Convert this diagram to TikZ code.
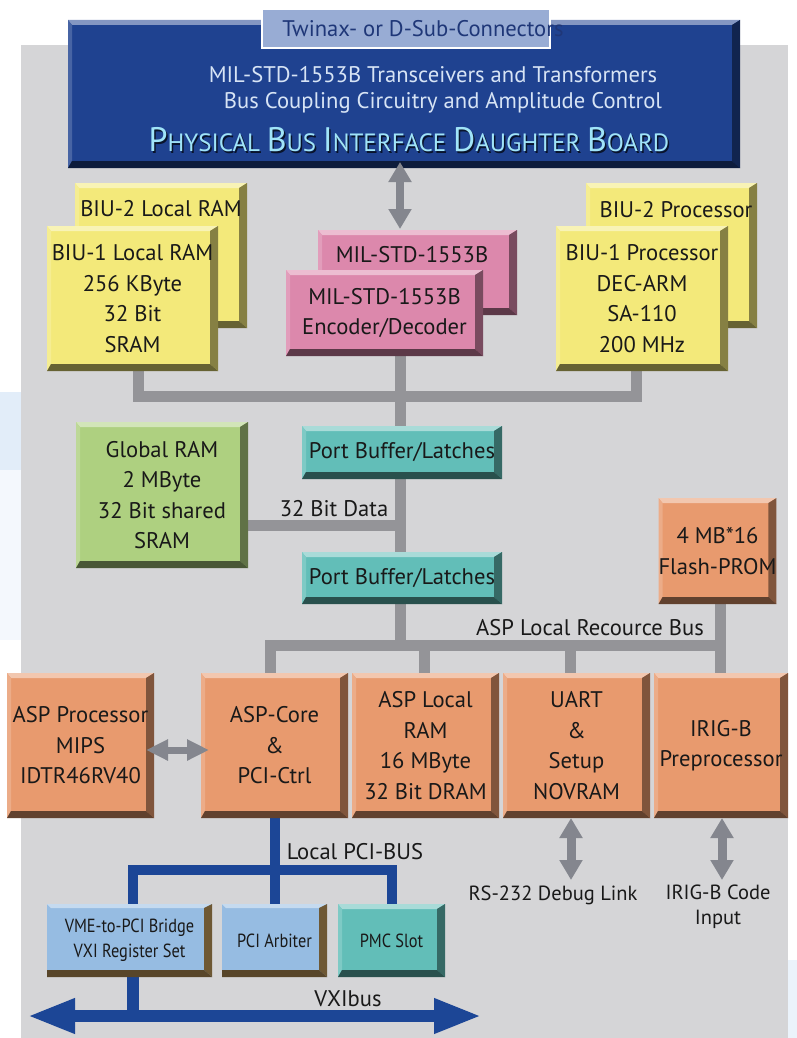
\documentclass[tikz,border=0pt]{standalone}
\usepackage{fontspec}
\setmainfont{PT Sans}
\newfontfamily\condfont[FakeStretch=0.86]{PT Sans}
\usetikzlibrary{arrows.meta,calc}
\definecolor{bgGray}{RGB}{213,213,215}
\definecolor{paleBlue}{RGB}{226,237,249}
\definecolor{dbBlue}{RGB}{31,66,144}
\definecolor{connBox}{RGB}{152,172,212}
\definecolor{connTxt}{RGB}{31,55,120}
\definecolor{dbTxt}{RGB}{215,228,245}
\definecolor{titleCyan}{RGB}{160,228,248}
\definecolor{yel}{RGB}{243,233,122}
\definecolor{pnk}{RGB}{220,136,172}
\definecolor{tea}{RGB}{98,190,184}
\definecolor{grn}{RGB}{174,208,128}
\definecolor{org}{RGB}{232,154,110}
\definecolor{lbl}{RGB}{150,188,226}
\definecolor{busGray}{RGB}{148,148,152}
\definecolor{arrGray}{RGB}{132,134,142}
\definecolor{pciBlue}{RGB}{28,70,150}
\definecolor{txt}{RGB}{25,25,25}
\definecolor{brownEdge}{RGB}{110,88,52}
\pgfdeclarelayer{bg}
\pgfdeclarelayer{lines}
\pgfsetlayers{bg,lines,main}
\newcommand\BigC[1]{{\fontsize{34}{34}\selectfont #1}}
\tikzset{
  every node/.style={font=\fontsize{22.6}{30.5}\selectfont, text=txt, inner sep=0pt, outer sep=0pt},
  bev/.style={fill=#1, align=center, path picture={
     \coordinate (SWc) at (path picture bounding box.south west);
     \coordinate (NEc) at (path picture bounding box.north east);
     \coordinate (SEc) at (path picture bounding box.south east);
     \coordinate (NWc) at (path picture bounding box.north west);
     \fill[#1!55!white] (NWc) -- (NEc) -- ([shift={(-8pt,-5pt)}]NEc) -- ([shift={(4pt,-5pt)}]NWc) -- cycle;
     \fill[#1!82!white] (NWc) -- ([shift={(4pt,-5pt)}]NWc) -- ([shift={(4pt,7pt)}]SWc) -- (SWc) -- cycle;
     \fill[#1!55!black] (NEc) -- (SEc) -- ([shift={(-8pt,7pt)}]SEc) -- ([shift={(-8pt,-5pt)}]NEc) -- cycle;
     \fill[#1!42!black] (SWc) -- (SEc) -- ([shift={(-8pt,7pt)}]SEc) -- ([shift={(4pt,7pt)}]SWc) -- cycle;
  }},
  bevb/.style={fill=#1, align=center, path picture={
     \coordinate (SWc) at (path picture bounding box.south west);
     \coordinate (NEc) at (path picture bounding box.north east);
     \coordinate (SEc) at (path picture bounding box.south east);
     \coordinate (NWc) at (path picture bounding box.north west);
     \fill[#1!55!white] (NWc) -- (NEc) -- ([shift={(-8pt,-4pt)}]NEc) -- ([shift={(4pt,-4pt)}]NWc) -- cycle;
     \fill[brownEdge] (NEc) -- (SEc) -- ([shift={(-8pt,7pt)}]SEc) -- ([shift={(-8pt,-4pt)}]NEc) -- cycle;
     \fill[brownEdge!80!black] (SWc) -- (SEc) -- ([shift={(-8pt,7pt)}]SEc) -- ([shift={(0pt,7pt)}]SWc) -- cycle;
  }},
  gbus/.style={draw=busGray, line width=11pt, line join=miter},
  pbus/.style={draw=pciBlue, line width=10pt, line join=miter},
  garrow/.style={draw=arrGray, line width=#1, {Triangle[length=20pt,width=22pt]}-{Triangle[length=20pt,width=22pt]}},
  lab/.style={font=\fontsize{20.5}{25}\selectfont, align=center},
  cond/.style={font=\condfont\fontsize{19}{25}\selectfont}
}
\begin{document}
\begin{tikzpicture}[x=1pt,y=-1pt]
\useasboundingbox (0,0) rectangle (797,1038);
\begin{pgfonlayer}{bg}
  \fill[white] (0,0) rectangle (797,1038);
  \fill[paleBlue] (0,392) rectangle (21,470);
  \fill[paleBlue!40!white] (0,470) rectangle (21,640);
  \fill[paleBlue!70!white] (788,960) rectangle (797,1038);
  \fill[bgGray] (21,45) rectangle (788,1038);
\end{pgfonlayer}

% daughter board
\node[bev=dbBlue, minimum width=672pt, minimum height=148pt] (dboard) at (404,94) {};
\node[draw=white, line width=2pt, fill=connBox, minimum width=288pt, minimum height=39pt] (conn) at (406,28.5) {};
\node[text=connTxt] (connlbl) at (423,29) {Twinax- or D-Sub-Connectors};
\node[text=dbTxt] (dbl1) at (433,75) {MIL-STD-1553B Transceivers and Transformers};
\node[text=dbTxt] (dbl2) at (443,103) {Bus Coupling Circuitry and Amplitude Control};
\node[text=black!70!dbBlue, font=\fontsize{25}{25}\selectfont] (titlesh) at (410.5,141.5) {\BigC{P}HYSICAL \BigC{B}US \BigC{I}NTERFACE \BigC{D}AUGHTER \BigC{B}OARD};
\node[text=titleCyan, font=\fontsize{25}{25}\selectfont] (title) at (409,140) {\BigC{P}HYSICAL \BigC{B}US \BigC{I}NTERFACE \BigC{D}AUGHTER \BigC{B}OARD};

% BIU boxes
\node[bev=yel, minimum width=172pt, minimum height=145pt] (biu2ram) at (161,255.5) {};
\node (biu2ramlbl) at (161,209) {BIU-2 Local RAM};
\node[bev=yel, minimum width=171pt, minimum height=145pt] (biu1ram) at (132.5,298.5) {BIU-1 Local RAM\\256 KByte\\32 Bit\\SRAM};
\node[bev=yel, minimum width=171pt, minimum height=145pt] (biu2proc) at (671.5,255.5) {};
\node (biu2proclbl) at (676,210) {BIU-2 Processor};
\node[bev=yel, minimum width=172pt, minimum height=145pt] (biu1proc) at (642,298.5) {BIU-1 Processor\\DEC-ARM\\SA-110\\200 MHz};

% MIL-STD boxes
\node[bev=pnk, minimum width=199pt, minimum height=85pt] (milb) at (417.5,272.5) {};
\node (milblbl) at (412,255) {MIL-STD-1553B};
\node[bev=pnk, minimum width=197pt, minimum height=86pt] (milf) at (384.5,313) {MIL-STD-1553B\\Encoder/Decoder};

% middle
\node[bev=tea, minimum width=200pt, minimum height=53pt] (pb1) at (402,452.5) {Port Buffer/Latches};
\node[bev=tea, minimum width=200pt, minimum height=52pt] (pb2) at (402,578) {Port Buffer/Latches};
\node[bev=grn, minimum width=172pt, minimum height=146pt] (glob) at (162,495) {Global RAM\\2 MByte\\32 Bit shared\\SRAM};
\node[bev=org, minimum width=107pt, minimum height=106pt] (flash) at (717.5,551) {4 MB*16\\Flash-PROM};
\node (datalbl) at (334,509) {32 Bit Data};
\node (asplbl) at (590,628) {ASP Local Recource Bus};

% ASP row
\node[bev=org, minimum width=147pt, minimum height=145pt] (aspproc) at (80.5,745.5) {ASP Processor\\MIPS\\IDTR46RV40};
\node[bev=org, minimum width=147pt, minimum height=145pt] (core) at (274.5,745.5) {ASP-Core\\\&\\PCI-Ctrl};
\node[bev=org, minimum width=147pt, minimum height=145pt] (lram) at (425.5,745.5) {ASP Local\\RAM\\16 MByte\\32 Bit DRAM};
\node[bev=org, minimum width=147pt, minimum height=145pt] (uart) at (576.5,745.5) {UART\\\&\\Setup\\NOVRAM};
\node[bev=org, minimum width=134pt, minimum height=145pt] (irig) at (721,745.5) {IRIG-B\\Preprocessor};

% PCI row
\node[bevb=lbl, minimum width=165pt, minimum height=73pt, cond, align=center] (vme) at (129.5,940.5) {VME-to-PCI Bridge\\VXI Register Set};
\node[bevb=lbl, minimum width=105pt, minimum height=73pt, cond] (arb) at (274.5,940.5) {PCI Arbiter};
\node[bev=tea, minimum width=107pt, minimum height=73pt, cond] (pmc) at (391.5,940.5) {PMC Slot};

% labels
\node (pcilbl) at (355,852) {Local PCI-BUS};
\node[lab] (rslbl) at (553,895) {RS-232 Debug Link};
\node[lab] (iriglbl) at (718,907) {IRIG-B Code\\Input};
\node (vxilbl) at (348,999) {VXIbus};

% coordinates
\coordinate (busL) at (138,396);
\coordinate (busR) at (636,396);
\coordinate (busC) at (400,396);
\coordinate (dataY) at (0,525);
\coordinate (aL) at (270,645);
\coordinate (aR) at (720,645);
\coordinate (pciL) at (133,870);
\coordinate (pciC) at (275,870);
\coordinate (pciR) at (392,870);
\coordinate (vxiX) at (133,1016);
\coordinate (vxiW) at (27,1016);
\coordinate (vxiE) at (482,1016);
\coordinate (topA) at (400,162);
\coordinate (topB) at (400,229);
\coordinate (ppW) at (146,750);
\coordinate (ppE) at (209,750);

\begin{pgfonlayer}{lines}
  \draw[gbus] (biu1ram.south -| busL) -- (busL) -- (busR) -- (biu1proc.south -| busR);
  \draw[gbus] (milf.south -| busC) -- (pb1.north -| busC);
  \draw[gbus] (pb1.south -| busC) -- (pb2.north -| busC);
  \draw[gbus] (glob.east |- dataY) -- (busC |- dataY);
  \draw[gbus] (pb2.south -| busC) -- (busC |- aL);
  \draw[gbus] (core.north -| aL) -- (aL) -- (aR) -- (flash.south -| aR);
  \draw[gbus] (aR) -- (irig.north -| aR);
  \draw[gbus] (lram.north -| 424,0) -- (424,645);
  \draw[gbus] (uart.north -| 570,0) -- (570,645);
  \draw[pbus] (core.south -| pciC) -- (pciC);
  \draw[pbus] (vme.north -| pciL) -- (pciL) -- (pciR) -- (pmc.north -| pciR);
  \draw[pbus] (arb.north -| pciC) -- (pciC);
  \draw[pbus, line width=12pt] (vme.south -| vxiX) -- (vxiX);
\end{pgfonlayer}

\draw[draw=pciBlue, line width=12pt, {Triangle[length=48pt,width=32pt]}-{Triangle[length=48pt,width=32pt]}] (vxiW) -- (vxiE);
\draw[garrow=8pt] (topA) -- (topB);
\draw[draw=arrGray, line width=7pt, {Triangle[length=22pt,width=20pt]}-{Triangle[length=22pt,width=20pt]}] (ppW) -- (ppE);
\draw[garrow=9pt] (uart.south -| 571,0) -- (571,880);
\draw[garrow=9pt] (irig.south -| 722,0) -- (722,880);
\end{tikzpicture}
\end{document}
